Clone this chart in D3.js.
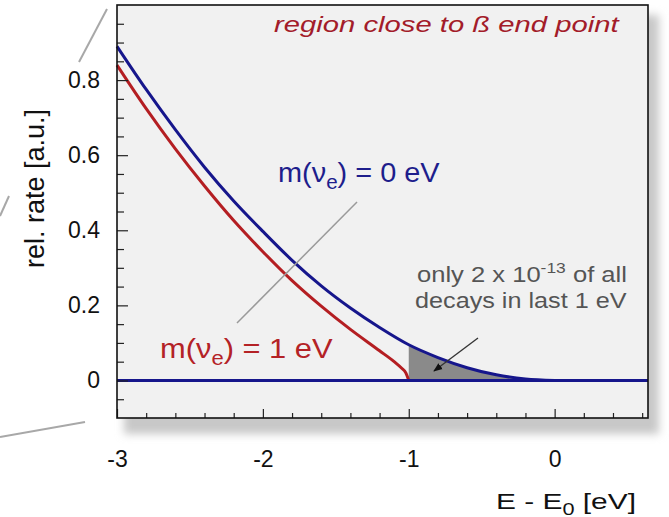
<!DOCTYPE html>
<html><head><meta charset="utf-8">
<script src="https://cdn.jsdelivr.net/npm/d3@7"></script>
<style>body{margin:0;background:#fff}svg{display:block}</style>
</head><body>
<svg id="chart" width="669" height="517"></svg>
<script>
// ---- data ----
const energyM0 = [-3.0,-2.8,-2.6,-2.4,-2.2,-2.0,-1.8,-1.6,-1.4,-1.2,-1.0,-0.8,-0.6,-0.4,-0.2,0.0];
const rateM0   = [0.89,0.775,0.668,0.568,0.478,0.397,0.320,0.252,0.193,0.141,0.095,0.061,0.034,0.015,0.004,0.0];
const energyM1 = [-3.0,-2.8,-2.6,-2.4,-2.2,-2.0,-1.8,-1.6,-1.4,-1.2,-1.1,-1.05,-1.02,-1.0];
const rateM1   = [0.84,0.724,0.617,0.518,0.426,0.343,0.266,0.198,0.136,0.079,0.050,0.033,0.020,0.0];
const zeroLine = [[-3.0,0],[0.64,0]];
const shadeFrom = -1.0;
const xMajorTicks = [-3,-2,-1,0];
const xMinorTicks = [-2.8,-2.6,-2.4,-2.2,-1.8,-1.6,-1.4,-1.2,-0.8,-0.6,-0.4,-0.2,0.2,0.4,0.6];
const yMajorTicks = [0,0.2,0.4,0.6,0.8];
const yMinorTicks = [-0.05,0.05,0.1,0.15,0.25,0.3,0.35,0.45,0.5,0.55,0.65,0.7,0.75,0.85,0.9,0.95];
const xDomain = [-3,0.64], yDomain = [-0.1,1.0];

const svg = d3.select("#chart");
const L=117,R=648,T=5,B=418;
const x = d3.scaleLinear().domain(xDomain).range([L,R]);
const y = d3.scaleLinear().domain(yDomain).range([B,T]);
const FONT = "'Liberation Sans', Arial, Helvetica, sans-serif";

function fit(sel, x0, w){
  const n = sel.node(); const cw = n.getBBox().width;
  const k = w / cw;
  sel.attr("transform", `translate(${x0},0) scale(${k},1) translate(${-x0},0)`);
}

// shadow
const defs = svg.append("defs");
const f = defs.append("filter").attr("id","sh").attr("x","-10%").attr("y","-10%").attr("width","130%").attr("height","130%");
f.append("feGaussianBlur").attr("stdDeviation",4);
svg.append("rect").attr("x",L+7).attr("y",T+10).attr("width",R-L+4).attr("height",B-T+6)
  .attr("fill","#c8c8c8").attr("filter","url(#sh)");

// decorative lines
const deco = [[[79,62],[107,9]],[[0,437],[85,422]],[[0,216],[9,196]]];
deco.forEach(d=>svg.append("line").attr("x1",d[0][0]).attr("y1",d[0][1]).attr("x2",d[1][0]).attr("y2",d[1][1])
  .attr("stroke","#a8a8a8").attr("stroke-width",2));

// plot background
svg.append("rect").attr("x",L).attr("y",T).attr("width",R-L).attr("height",B-T).attr("fill","#f1f1f1");

// shaded area
const shadeData = energyM0.map((e,i)=>[e,rateM0[i]]).filter(d=>d[0]>=shadeFrom);
svg.append("path").datum(shadeData)
  .attr("d", d3.area().x(d=>x(d[0])).y0(y(0)).y1(d=>y(d[1])).curve(d3.curveMonotoneX))
  .attr("fill","#8a8a8a");

// curves
const line = d3.line().x(d=>x(d[0])).y(d=>y(d[1])).curve(d3.curveMonotoneX);
svg.append("path").datum(energyM1.map((e,i)=>[e,rateM1[i]])).attr("d",line)
  .attr("fill","none").attr("stroke","#b41e22").attr("stroke-width",3);
svg.append("path").datum(energyM0.map((e,i)=>[e,rateM0[i]])).attr("d",line)
  .attr("fill","none").attr("stroke","#16168c").attr("stroke-width",3);
svg.append("path").datum(zeroLine).attr("d",d3.line().x(d=>x(d[0])).y(d=>y(d[1])))
  .attr("fill","none").attr("stroke","#16168c").attr("stroke-width",3);

// axes
const fmt = d => d===0 ? "0" : String(d);
svg.append("g").attr("transform",`translate(${L},0)`)
  .call(d3.axisLeft(y).tickValues(yMajorTicks).tickSize(-11).tickPadding(17).tickFormat(fmt));
svg.append("g").attr("transform",`translate(${L},0)`)
  .call(d3.axisLeft(y).tickValues(yMinorTicks).tickSize(-7).tickFormat(""));
svg.append("g").attr("transform",`translate(0,${B})`)
  .call(d3.axisBottom(x).tickValues(xMajorTicks).tickSize(-9).tickPadding(33).tickFormat(fmt));
svg.append("g").attr("transform",`translate(0,${B})`)
  .call(d3.axisBottom(x).tickValues(xMinorTicks).tickSize(-5).tickFormat(""));
svg.selectAll(".domain").remove();
svg.selectAll(".tick line").attr("stroke","#222").attr("stroke-width",1.2);
svg.selectAll(".tick text").attr("font-family",FONT).attr("font-size",23).attr("fill","#111");

// frame
svg.append("rect").attr("x",L).attr("y",T).attr("width",R-L).attr("height",B-T)
  .attr("fill","none").attr("stroke","#111").attr("stroke-width",1.6);

// title
const title = svg.append("text").attr("x",274).attr("y",32).attr("font-family",FONT).attr("font-size",22)
  .attr("font-style","italic").attr("fill","#a31c2a").text("region close to ß end point");
fit(title,274,346);

// labels with subscripts
function mLabel(x0, y0, val, color, w){
  const t = svg.append("text").attr("x",x0).attr("y",y0).attr("font-family",FONT).attr("font-size",28).attr("fill",color);
  t.append("tspan").text("m(ν");
  t.append("tspan").attr("font-size",20).attr("dy",7).text("e");
  t.append("tspan").attr("dy",-7).text(`) = ${val} eV`);
  fit(t,x0,w);
}
mLabel(278,182,"0","#1e1e8c",162);
mLabel(160,358,"1","#b42226",173);

// pointer line
svg.append("line").attr("x1",357).attr("y1",202).attr("x2",237).attr("y2",323).attr("stroke","#9a9a9a").attr("stroke-width",1.5);

// annotation
const a1 = svg.append("text").attr("x",417).attr("y",282).attr("font-family",FONT).attr("font-size",22).attr("fill","#555");
a1.append("tspan").text("only 2 x 10");
a1.append("tspan").attr("font-size",15).attr("dy",-9).text("-13");
a1.append("tspan").attr("dy",9).text(" of all");
fit(a1,417,210);
const a2 = svg.append("text").attr("x",415).attr("y",308).attr("font-family",FONT).attr("font-size",22).attr("fill","#555")
  .text("decays in last 1 eV");
fit(a2,415,212);

// arrow
defs.append("marker").attr("id","ah").attr("viewBox","0 0 10 10").attr("refX",9).attr("refY",5)
  .attr("markerWidth",7).attr("markerHeight",7).attr("orient","auto")
  .append("path").attr("d","M0,1 L10,5 L0,9 Z").attr("fill","#111");
svg.append("line").attr("x1",478).attr("y1",338).attr("x2",434).attr("y2",371)
  .attr("stroke","#333").attr("stroke-width",1.3).attr("marker-end","url(#ah)");

// axis titles
const xl = svg.append("text").attr("x",496).attr("y",509).attr("font-family",FONT).attr("font-size",22).attr("fill","#111");
xl.append("tspan").text("E - E");
xl.append("tspan").attr("font-size",16).attr("dy",6).text("0");
xl.append("tspan").attr("dy",-6).text(" [eV]");
fit(xl,496,140);

svg.append("text").attr("transform","translate(44,268) rotate(-90)")
  .attr("font-family",FONT).attr("font-size",27).attr("fill","#111")
  .text("rel. rate [a.u.]");
</script>
</body></html>
